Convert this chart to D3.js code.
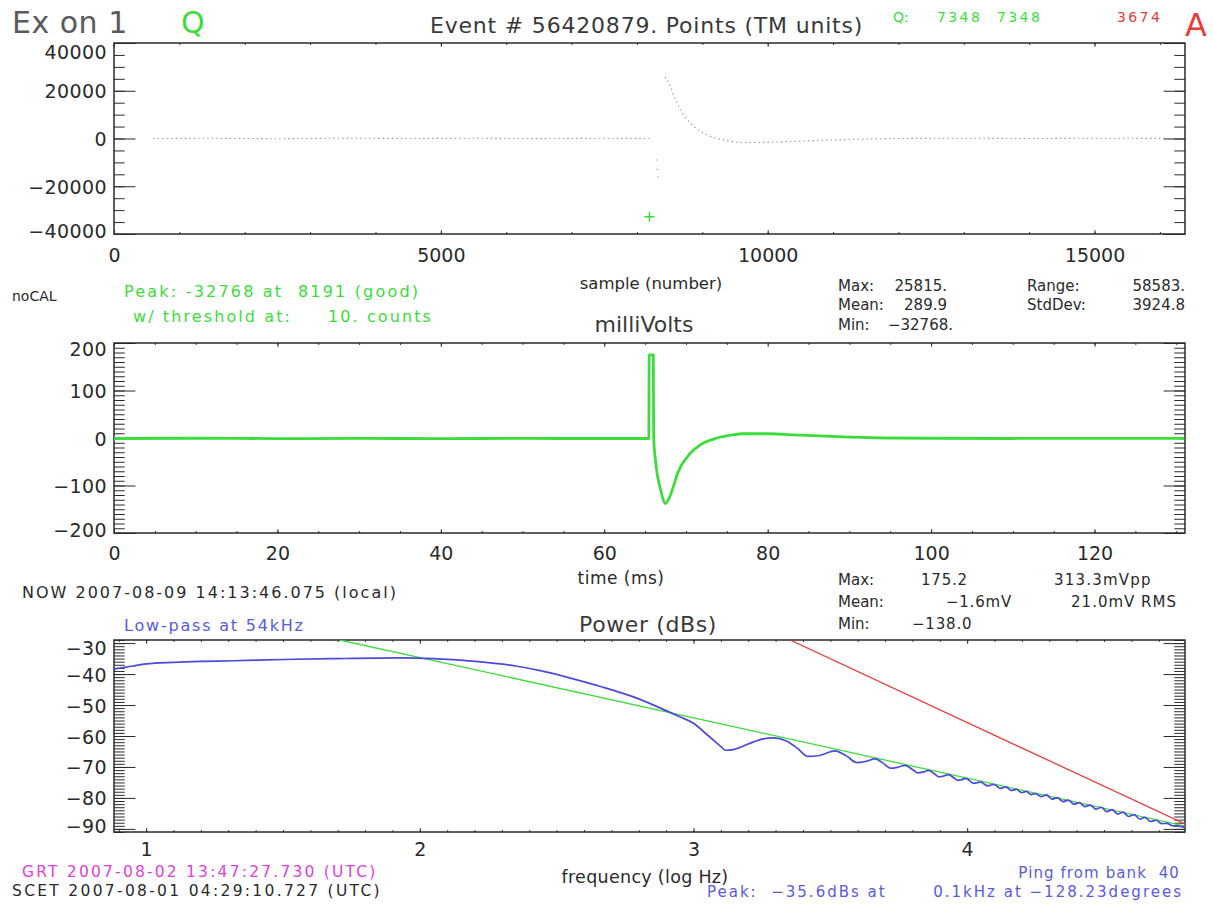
<!DOCTYPE html>
<html><head><meta charset="utf-8">
<script src="https://cdn.jsdelivr.net/npm/d3@7"></script>
<style>
body{margin:0;background:#fff;}
svg text{font-family:"DejaVu Sans",sans-serif;}
</style></head><body><svg id="c" width="1213" height="904"></svg>
<script>
// ---------- DATA ----------
// Panel 1: raw telemetry counts vs sample number
const p1BeforeSample = [600, 1500, 2500, 3500, 4500, 5500, 6500, 7500, 8190];
const p1BeforeCounts = [0, 100, -100, 150, 0, 100, -50, 100, 0];
const p1TransitSample = [8300, 8310, 8320];
const p1TransitCounts = [-9000, -13000, -16000];
const p1PeakSample = [8191];
const p1PeakCounts = [-32768];
const p1AfterSample = [8430, 8500, 8580, 8668, 8821, 8950, 9081, 9225, 9400, 9625, 10000, 10500, 11250, 12000, 13000, 14000, 15000, 16383];
const p1AfterCounts = [25815, 22500, 17000, 11900, 6400, 3400, 1400, 0, -1000, -1700, -1600, -1100, -400, 0, 100, 0, 100, 0];
const p1XTicks = [0, 5000, 10000, 15000];
const p1YTicks = [-40000, -20000, 0, 20000, 40000];

// Panel 2: millivolts vs time (ms)
const p2TimeMs = [0, 10, 20, 30, 40, 50, 60, 65.45, 65.5, 66.0, 66.05, 66.3, 66.9, 67.5, 68.0, 68.5, 69.0, 70.2, 71.8, 73.8, 75.5, 77, 80, 84, 90, 95, 100, 110, 120, 131];
const p2MilliVolts = [-1, -0.5, -1.2, -0.8, -1.3, -0.9, -1.1, -1, 175, 175, 0, -52, -109, -138, -124, -100, -73, -39, -14, 0, 6, 9, 9, 6, 2, 0, -0.5, -1, -0.8, -1];
const p2XTicks = [0, 20, 40, 60, 80, 100, 120];
const p2YTicks = [-200, -100, 0, 100, 200];

// Panel 3: power spectrum (dB) vs log10 frequency
const p3BlueLogHz = [0.8825, 0.95, 1.0, 1.1, 1.2, 1.32, 1.5, 1.7, 1.93, 2.05, 2.2, 2.35, 2.44, 2.55, 2.66, 2.8, 2.9, 2.95, 3.0, 3.05, 3.1, 3.116, 3.15, 3.2, 3.25, 3.293, 3.34, 3.38, 3.419, 3.46, 3.517, 3.56, 3.597, 3.63, 3.664, 3.69, 3.722, 3.75, 3.773, 3.8, 3.819, 3.84, 3.86, 3.88, 3.898, 3.915, 3.932, 3.95, 3.965, 3.98, 3.995, 4.01, 4.023, 4.036, 4.049, 4.062, 4.074, 4.086, 4.098, 4.11, 4.12, 4.131, 4.141, 4.151, 4.161, 4.171, 4.181, 4.19, 4.199, 4.208, 4.217, 4.226, 4.234, 4.25, 4.27, 4.29, 4.31, 4.33, 4.35, 4.37, 4.39, 4.41, 4.43, 4.45, 4.47, 4.49, 4.51, 4.53, 4.55, 4.57, 4.59, 4.61, 4.63, 4.65, 4.67, 4.69, 4.71, 4.73, 4.75, 4.77, 4.796];
const p3BlueDb = [-38.4, -37.4, -36.7, -36.2, -35.9, -35.7, -35.3, -35.0, -34.8, -35.0, -35.9, -37.4, -38.9, -41.3, -44.0, -48.0, -51.8, -53.8, -55.9, -59.6, -63.4, -64.6, -64.3, -62.6, -61.0, -60.6, -61.6, -64.0, -66.6, -66.3, -64.8, -66.5, -68.6, -68.2, -67.4, -68.6, -70.4, -70.0, -69.5, -70.8, -71.9, -71.6, -71.1, -72.2, -73.2, -72.9, -72.5, -73.4, -74.3, -74.1, -73.7, -74.5, -75.3, -75.1, -74.8, -75.5, -76.1, -75.9, -75.6, -76.3, -76.9, -76.7, -76.4, -77.0, -77.6, -77.4, -77.2, -77.8, -78.3, -78.1, -77.9, -78.5, -78.9, -78.6, -79.6, -79.0, -80.4, -79.9, -81.2, -80.7, -82.0, -81.5, -82.8, -82.3, -83.6, -83.0, -84.4, -83.8, -85.2, -84.6, -86.0, -85.4, -86.8, -86.3, -87.6, -87.2, -88.3, -88.2, -89.0, -89.0, -89.6];
const p3GreenLogHz = [1.708, 4.796];
const p3GreenDb = [-29.0, -89.1];
const p3RedLogHz = [3.353, 4.796];
const p3RedDb = [-29.0, -88.4];
const p3XTicks = [1, 2, 3, 4];
const p3YTicks = [-90, -80, -70, -60, -50, -40, -30];

// ---------- DRAWING ----------
const svg = d3.select('#c');
svg.append('rect').attr('width',1213).attr('height',904).attr('fill','#fff');
const L = 114, R = 1185;
const INK = '#2a2a2a';
const GREEN = '#3ddc3d', RED = '#e83c3c', BLUE = '#4a4adc', TBLUE = '#5a5ae0', MAGENTA = '#e040e0';

function panel(cfg){
  const x = d3.scaleLinear().domain(cfg.xDom).range([L, R]);
  const y = d3.scaleLinear().domain(cfg.yDom).range([cfg.bottom, cfg.top]);
  const g = svg.append('g');
  const xLen = 0.02*(cfg.bottom-cfg.top), yLen = 0.02*(R-L);
  const tidy = s => { s.select('.domain').remove(); s.selectAll('line').attr('stroke', INK).attr('stroke-width',1); s.attr('font-family',null).attr('font-size',null); };
  // minor ticks
  g.append('g').attr('transform',`translate(0,${cfg.bottom})`).call(d3.axisBottom(x).tickValues(cfg.xMinor).tickSize(-xLen/2).tickFormat('')).call(tidy);
  g.append('g').attr('transform',`translate(0,${cfg.top})`).call(d3.axisTop(x).tickValues(cfg.xMinor).tickSize(-xLen/2).tickFormat('')).call(tidy);
  g.append('g').attr('transform',`translate(${L},0)`).call(d3.axisLeft(y).tickValues(cfg.yMinor).tickSize(-yLen/2).tickFormat('')).call(tidy);
  g.append('g').attr('transform',`translate(${R},0)`).call(d3.axisRight(y).tickValues(cfg.yMinor).tickSize(-yLen/2).tickFormat('')).call(tidy);
  // major ticks
  const xb = g.append('g').attr('transform',`translate(0,${cfg.bottom})`).call(d3.axisBottom(x).tickValues(cfg.xTicks).tickSize(-xLen).tickPadding(cfg.xPad).tickFormat(d3.format('d'))).call(tidy);
  g.append('g').attr('transform',`translate(0,${cfg.top})`).call(d3.axisTop(x).tickValues(cfg.xTicks).tickSize(-xLen).tickFormat('')).call(tidy);
  const yl = g.append('g').attr('transform',`translate(${L},0)`).call(d3.axisLeft(y).tickValues(cfg.yTicks).tickSize(-yLen).tickPadding(7).tickFormat(d3.format('d'))).call(tidy);
  g.append('g').attr('transform',`translate(${R},0)`).call(d3.axisRight(y).tickValues(cfg.yTicks).tickSize(-yLen).tickFormat('')).call(tidy);
  xb.selectAll('text').attr('fill',INK).attr('font-size',19);
  yl.selectAll('text').attr('fill',INK).attr('font-size',19).attr('letter-spacing',0.4)
    .text(d=>d3.format('d')(d).replace('-','\u2212'));
  yl.selectAll('text').each(function(d){
    let sh = 0;
    if (d===cfg.yTicks[cfg.yTicks.length-1]) sh = cfg.topShift;
    if (d===cfg.yTicks[0]) sh = cfg.botShift;
    d3.select(this).attr('dy', null).attr('y', sh).attr('dominant-baseline','central');
  });
  // frame
  g.append('rect').attr('x',L).attr('y',cfg.top).attr('width',R-L).attr('height',cfg.bottom-cfg.top)
    .attr('fill','none').attr('stroke',INK).attr('stroke-width',1.5);
  const clipId = 'clip'+cfg.top;
  svg.append('clipPath').attr('id',clipId).append('rect').attr('x',L).attr('y',cfg.top).attr('width',R-L).attr('height',cfg.bottom-cfg.top);
  const plot = svg.append('g').attr('clip-path',`url(#${clipId})`);
  return {x, y, plot};
}

// Panel 1
const P1 = panel({xDom:[0,16384], yDom:[-40000,40000], top:43, bottom:234, xPad:15,
  xTicks:p1XTicks, xMinor:d3.range(0,16385,1000), yTicks:p1YTicks, yMinor:d3.range(-40000,40001,5000), topShift:8, botShift:-4});
const line1 = d3.line().x(d=>P1.x(d[0])).y(d=>P1.y(d[1]));
P1.plot.append('path').datum(d3.zip(p1BeforeSample,p1BeforeCounts)).attr('d',line1)
  .attr('fill','none').attr('stroke','#777').attr('stroke-width',1.1).attr('stroke-dasharray','1.5 3').attr('opacity',0.75);
P1.plot.append('path').datum(d3.zip(p1AfterSample,p1AfterCounts)).attr('d',line1.curve(d3.curveMonotoneX))
  .attr('fill','none').attr('stroke','#777').attr('stroke-width',1.1).attr('stroke-dasharray','1.5 3').attr('opacity',0.75);
P1.plot.selectAll('circle.tr').data(d3.zip(p1TransitSample,p1TransitCounts)).join('circle')
  .attr('cx',d=>P1.x(d[0])).attr('cy',d=>P1.y(d[1])).attr('r',0.7).attr('fill','#aaa');
P1.plot.selectAll('path.pk').data(d3.zip(p1PeakSample,p1PeakCounts)).join('path')
  .attr('d',d=>{const cx=P1.x(d[0]), cy=P1.y(d[1]); return `M${cx-5},${cy}H${cx+5}M${cx},${cy-5}V${cy+5}`;})
  .attr('stroke',GREEN).attr('stroke-width',1.5);

// Panel 2
const P2 = panel({xDom:[0,131.072], yDom:[-200,200], top:343, bottom:533, xPad:14,
  xTicks:p2XTicks, xMinor:d3.range(0,131,5), yTicks:p2YTicks, yMinor:d3.range(-200,201,10), topShift:5, botShift:-4});
P2.plot.append('path').datum(d3.zip(p2TimeMs,p2MilliVolts))
  .attr('d', d3.line().x(d=>P2.x(d[0])).y(d=>P2.y(d[1])).curve(d3.curveMonotoneX))
  .attr('fill','none').attr('stroke',GREEN).attr('stroke-width',2.8).attr('stroke-linejoin','round');

// Panel 3
const P3 = panel({xDom:[0.8825,4.796], yDom:[-91,-29], top:640, bottom:832, xPad:11,
  xTicks:p3XTicks, xMinor:d3.range(0.9,4.8,0.1).map(v=>+v.toFixed(1)), yTicks:p3YTicks, yMinor:d3.range(-91,-28,1), topShift:4, botShift:-3});
const line3 = d3.line().x(d=>P3.x(d[0])).y(d=>P3.y(d[1]));
P3.plot.append('path').datum(d3.zip(p3GreenLogHz,p3GreenDb)).attr('d',line3).attr('fill','none').attr('stroke',GREEN).attr('stroke-width',1.3);
P3.plot.append('path').datum(d3.zip(p3RedLogHz,p3RedDb)).attr('d',line3).attr('fill','none').attr('stroke',RED).attr('stroke-width',1.3);
P3.plot.append('path').datum(d3.zip(p3BlueLogHz,p3BlueDb)).attr('d',line3.curve(d3.curveMonotoneX)).attr('fill','none').attr('stroke',BLUE).attr('stroke-width',1.7);

// ---------- TEXT ----------
function t(str, x, y, size, color, anchor, ls){
  const e = svg.append('text').attr('x',x).attr('y',y).attr('font-size',size).attr('fill',color||INK)
    .attr('text-anchor',anchor||'start').attr('xml:space','preserve').style('white-space','pre').text(str);
  if (ls) e.attr('letter-spacing', ls);
  return e;
}
t('Ex on 1', 12, 33, 30, '#5a5a5a', 'start', 0.5);
t('Q', 181, 33, 30, GREEN);
t('Event # 56420879. Points (TM units)', 430, 33, 22, '#3a3a3a', 'start', 0.8);
t('Q:', 893, 22, 14, GREEN);
t('7348', 937, 22, 14, GREEN, 'start', 2.4);
t('7348', 997, 22, 14, GREEN, 'start', 2.4);
t('3674', 1117, 22, 14, RED, 'start', 2.4);
t('A', 1185, 36, 32, RED);

t('sample (number)', 651, 289, 16.5, INK, 'middle');
t('noCAL', 12, 301, 14, INK);
t('Peak: -32768 at  8191 (good)', 124, 297, 16, GREEN, 'start', 2.2);
t('w/ threshold at:     10. counts', 133, 322, 16, GREEN, 'start', 2.1);
t('milliVolts', 644, 332, 22, '#3a3a3a', 'middle');
t('Max:', 838, 291, 15); t('25815.', 947, 291, 15, INK, 'end');
t('Mean:', 838, 310, 15); t('289.9', 947, 310, 15, INK, 'end');
t('Min:', 838, 330, 15); t('\u221232768.', 953, 330, 15, INK, 'end');
t('Range:', 1027, 291, 15); t('58583.', 1185, 291, 15, INK, 'end');
t('StdDev:', 1027, 310, 15); t('3924.8', 1185, 310, 15, INK, 'end');

t('time (ms)', 621, 584, 17, INK, 'middle', 0.5);
t('NOW 2007-08-09 14:13:46.075 (local)', 22, 598, 16, INK, 'start', 2.0);
t('Max:', 838, 585, 15); t('175.2', 921, 585, 15, INK, 'start', 0.8);
t('313.3mVpp', 1054, 585, 15, INK, 'start', 1.2);
t('Mean:', 838, 607, 15); t('\u22121.6mV', 1012, 607, 15, INK, 'end', 0.8);
t('21.0mV RMS', 1177, 607, 15, INK, 'end', 1.0);
t('Min:', 838, 629, 15); t('\u2212138.0', 912, 629, 15, INK, 'start', 0.8);
t('Power (dBs)', 648, 632, 22, '#3a3a3a', 'middle', 0.6);
t('Low-pass at 54kHz', 124, 631, 16, TBLUE, 'start', 1.8);

t('GRT 2007-08-02 13:47:27.730 (UTC)', 22, 877, 15.5, MAGENTA, 'start', 2.2);
t('SCET 2007-08-01 04:29:10.727 (UTC)', 12, 896, 15.5, INK, 'start', 2.3);
t('frequency (log Hz)', 645, 883, 17.5, INK, 'middle', 0.3);
t('Ping from bank  40', 1180, 878, 15, TBLUE, 'end', 1.1);
t('Peak:  \u221235.6dBs at', 707, 897, 15, TBLUE, 'start', 2.0);
t('0.1kHz at \u2212128.23degrees', 1183, 897, 15, TBLUE, 'end', 2.0);
</script></body></html>
